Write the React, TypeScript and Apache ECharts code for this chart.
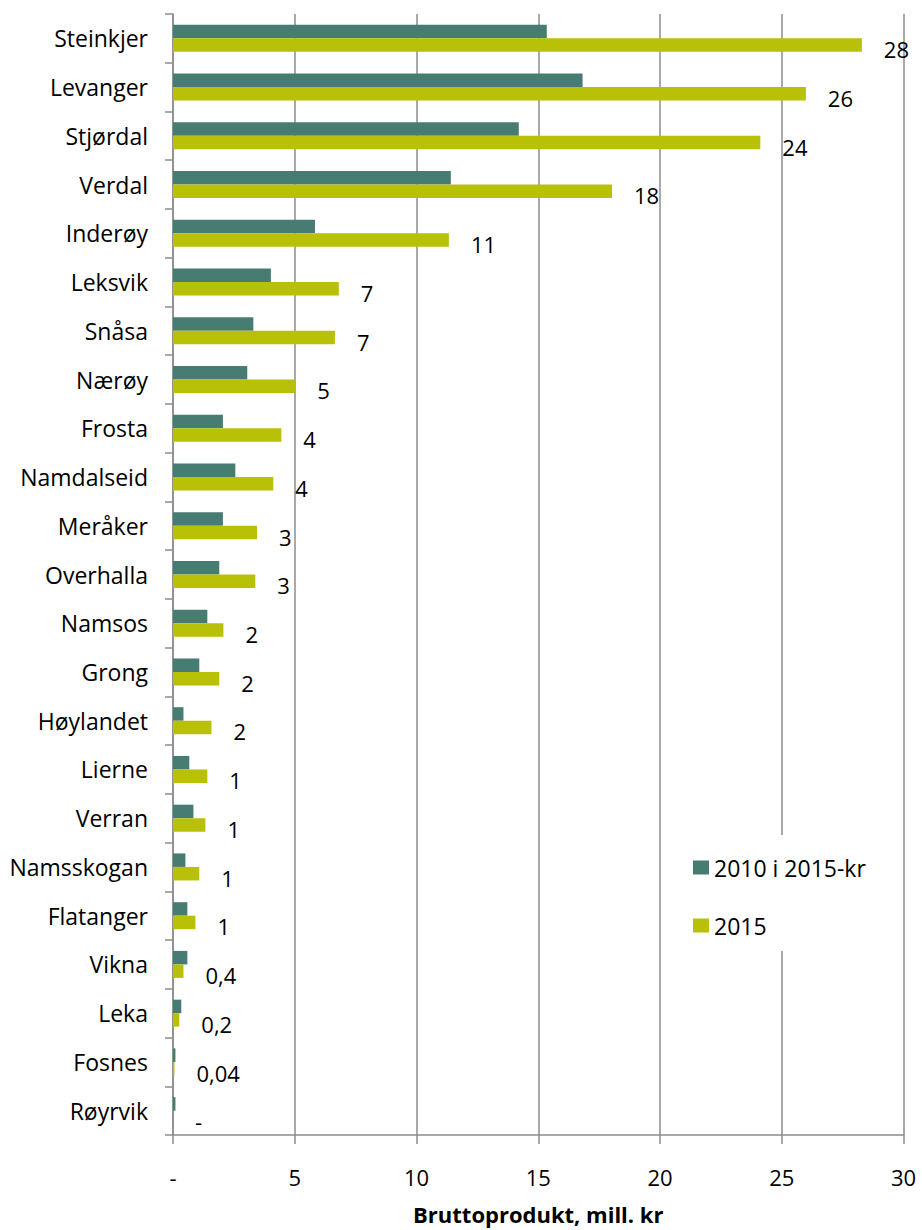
import React, { useEffect, useRef } from "react";
import * as echarts from "echarts";

const categories = ["Steinkjer","Levanger","Stjørdal","Verdal","Inderøy","Leksvik","Snåsa","Nærøy","Frosta","Namdalseid","Meråker","Overhalla","Namsos","Grong","Høylandet","Lierne","Verran","Namsskogan","Flatanger","Vikna","Leka","Fosnes","Røyrvik"];
const values2010 = [15.35,16.82,14.2,11.41,5.83,4.02,3.3,3.05,2.05,2.56,2.05,1.9,1.41,1.08,0.43,0.67,0.84,0.51,0.59,0.59,0.34,0.1,0.1];
const values2015 = [28.29,25.99,24.12,18.03,11.33,6.81,6.65,5.02,4.45,4.12,3.45,3.38,2.07,1.9,1.58,1.41,1.33,1.08,0.92,0.43,0.26,0.06,0];
const labels2015 = ["28","26","24","18","11","7","7","5","4","4","3","3","2","2","2","1","1","1","1","0,4","0,2","0,04","-"];
const xTickLabels = ["-","5","10","15","20","25","30"];
const seriesNames = ["2010 i 2015-kr","2015"];

const FONT = "'Open Sans', 'Noto Sans', sans-serif";
const GRAY = "#8c8c8c";

export default function App() {
  const ref = useRef<HTMLDivElement>(null);
  useEffect(() => {
    if (!ref.current) return;
    const chart = echarts.init(ref.current, undefined, { renderer: "svg" });
    chart.setOption({
      animation: false,
      backgroundColor: "#ffffff",
      textStyle: { fontFamily: FONT, color: "#000" },
      grid: { left: 173, right: 18.5, top: 14, bottom: 90, containLabel: false },
      legend: {
        orient: "vertical",
        left: 683,
        top: 835,
        padding: [21, 12, 14, 10],
        backgroundColor: "#ffffff",
        itemGap: 35,
        itemWidth: 16,
        itemHeight: 14,
        icon: "rect",
        data: seriesNames,
        textStyle: { fontFamily: FONT, fontSize: 23, color: "#000" },
      },
      xAxis: {
        type: "value",
        min: 0,
        max: 30,
        interval: 5,
        name: "Bruttoprodukt, mill. kr",
        nameLocation: "middle",
        nameGap: 68,
        nameTextStyle: { fontFamily: FONT, fontSize: 22, fontWeight: "bold", color: "#000" },
        axisLine: { show: true, lineStyle: { color: GRAY, width: 1.5 } },
        axisTick: { show: true, length: 9, lineStyle: { color: GRAY, width: 1.5 } },
        splitLine: { show: true, lineStyle: { color: GRAY, width: 1.5 } },
        axisLabel: {
          margin: 31,
          fontFamily: FONT,
          fontSize: 22,
          color: "#000",
          formatter: (v: number) => xTickLabels[Math.round(v / 5)] ?? String(v),
        },
      },
      yAxis: {
        type: "category",
        data: categories,
        inverse: true,
        axisLine: { show: true, lineStyle: { color: GRAY, width: 1.5 } },
        axisTick: { show: true, length: 8, alignWithLabel: false, lineStyle: { color: GRAY, width: 1.5 } },
        axisLabel: { margin: 25, fontFamily: FONT, fontSize: 23, color: "#000", padding: [3, 0, 0, 0] },
        splitLine: { show: false },
      },
      series: [
        {
          name: seriesNames[0],
          type: "bar",
          data: values2010,
          barWidth: 13.5,
          barGap: "0%",
          itemStyle: { color: "#467c71" },
        },
        {
          name: seriesNames[1],
          type: "bar",
          data: values2015,
          barWidth: 13.5,
          barGap: "0%",
          itemStyle: { color: "#b8c007" },
          label: {
            show: true,
            position: "right",
            distance: 22,
            offset: [0, 4],
            fontFamily: FONT,
            fontSize: 22,
            color: "#000",
            formatter: (p: any) => labels2015[p.dataIndex],
          },
        },
      ],
    });
    return () => chart.dispose();
  }, []);
  return (
    <div
      ref={ref}
      style={{ position: "absolute", left: 0, top: 0, width: 922, height: 1230 }}
    />
  );
}
